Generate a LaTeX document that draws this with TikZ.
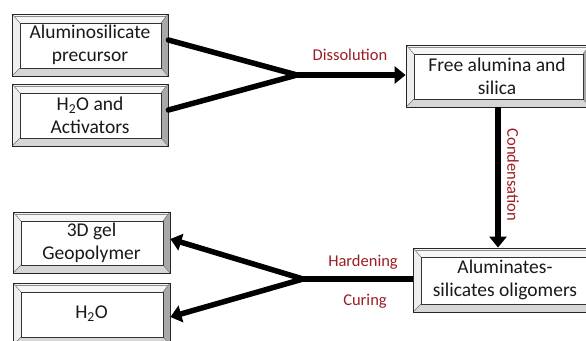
\documentclass[tikz,border=0pt]{standalone}
\usepackage{fontspec}
\setmainfont{Carlito}
\usetikzlibrary{calc,arrows.meta}
\definecolor{lblred}{RGB}{155,30,36}
\definecolor{txt}{RGB}{25,25,25}
\definecolor{bvtop}{RGB}{246,246,246}
\definecolor{bvleft}{RGB}{238,238,238}
\definecolor{bvright}{RGB}{168,168,168}
\definecolor{bvbot}{RGB}{214,214,214}
\tikzset{
  bevelbox/.style={rectangle, draw=black!85, line width=0.8pt, fill=white,
    inner sep=0pt, align=center, text=txt,
    font=\fontsize{19.5}{23}\selectfont,
    path picture={
      \path (path picture bounding box.south west) coordinate (bsw)
            (path picture bounding box.north east) coordinate (bne)
            (path picture bounding box.north west) coordinate (bnw)
            (path picture bounding box.south east) coordinate (bse);
      \coordinate (isw) at ($(bsw)+(8pt,8pt)$);
      \coordinate (ine) at ($(bne)+(-7pt,-9pt)$);
      \coordinate (inw) at ($(bnw)+(8pt,-9pt)$);
      \coordinate (ise) at ($(bse)+(-7pt,8pt)$);
      \fill[bvtop] (bnw) -- (bne) -- (ine) -- (inw) -- cycle;
      \fill[bvleft] (bnw) -- (inw) -- (isw) -- (bsw) -- cycle;
      \fill[bvright] (bne) -- (bse) -- (ise) -- (ine) -- cycle;
      \fill[bvbot] (bsw) -- (bse) -- (ise) -- (isw) -- cycle;
      \draw[black!55, line width=0.5pt] (bnw) -- (inw) (bne) -- (ine) (bsw) -- (isw) (bse) -- (ise);
      \draw[black!80, line width=0.7pt] (isw) rectangle (ine);
      \draw[black!45, line width=0.4pt] ($(bnw)+(2pt,-2pt)$) -- ($(bne)+(-2pt,-2pt)$);
    }},
  conn/.style={line width=5.5pt, black, line cap=round},
  arr/.style={line width=5.5pt, black, -{Triangle[length=11pt,width=17pt]}},
  lbl/.style={text=lblred, inner sep=0pt, font=\fontsize{16.5}{19}\selectfont},
}
\begin{document}
\begin{tikzpicture}[x=1pt,y=-1pt]
\useasboundingbox (0,0) rectangle (586,340);
\clip (0,0) rectangle (586,340);
\fill[white] (0,0) rectangle (586,340);

\node[bevelbox, minimum width=156pt, minimum height=62pt] (b1) at (90,45) {Aluminosilicate\\precursor};
\node[bevelbox, minimum width=156pt, minimum height=62pt] (b2) at (90,115) {H\textsubscript{2}O and\\Activators};
\node[bevelbox, minimum width=184pt, minimum height=62pt] (b3) at (498,76) {\hspace*{-2pt}Free alumina and\\\hspace*{-2pt}silica};
\node[bevelbox, minimum width=190pt, minimum height=64pt] (b4) at (508,280) {\hspace*{-6pt}Aluminates-\\\hspace*{-6pt}silicates oligomers};
\node[bevelbox, minimum width=157pt, minimum height=61pt] (b5) at (91.5,242.5) {3D gel\\Geopolymer};
\node[bevelbox, minimum width=157pt, minimum height=62pt] (b6) at (91.5,314) {H\textsubscript{2}O};

\coordinate (j1) at (297,75);
\coordinate (j2) at (303,279);

\draw[conn] ([yshift=5pt]b1.east) -- (j1);
\draw[conn] ([yshift=5pt]b2.east) -- (j1);
\draw[arr] (j1) -- (b3.west |- j1);

\draw[arr] (b3.south) -- (b3.south |- b4.north);

\draw[conn, line cap=butt] (b4.west |- j2) -- (j2);
\draw[arr] (j2) -- ([yshift=3.5pt]b5.east);
\draw[arr] (j2) -- ([yshift=-3pt]b6.east);

\node[lbl] (ldis) at (350,55) {Dissolution};
\node[lbl] (lhard) at (363,262) {Hardening};
\node[lbl] (lcur) at (365,301) {Curing};
\node[lbl, rotate=-90] (lcond) at (513,175) {Condensation};
\end{tikzpicture}
\end{document}
